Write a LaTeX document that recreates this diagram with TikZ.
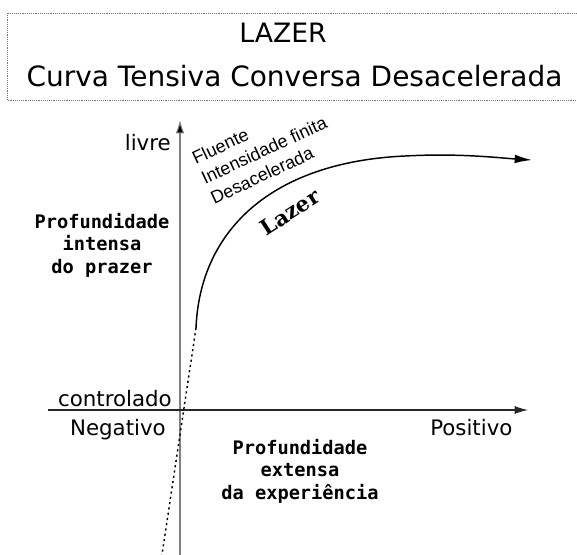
\documentclass[tikz,border=0pt]{standalone}
\usepackage{fontspec}
\setmainfont{DejaVu Sans}
\newfontfamily\monob{DejaVu Sans Mono}
\newfontfamily\arialf{Liberation Sans}
\newfontfamily\serifb{DejaVu Serif}
\usetikzlibrary{arrows.meta}
\tikzset{
  hand/.style={inner sep=0pt, font=\fontsize{16}{19}\selectfont},
  monolbl/.style={inner sep=0pt, align=center, font=\monob\bfseries\fontsize{14}{16.9}\selectfont},
  vaxis/.style={draw=black!50, line width=0.8pt, -{Latex[length=10pt,width=6.5pt,fill=black]}},
  haxis/.style={draw=black!85, line width=0.8pt, -{Latex[length=10pt,width=6pt]}},
  curveline/.style={draw=black, line width=1.1pt, -{Latex[length=13pt,width=6.5pt]}},
  dotline/.style={draw=black, line width=1.1pt, dash pattern=on 1.6pt off 2.4pt},
  titlebox/.style={draw=black!55, line width=0.7pt, dash pattern=on 0.7pt off 0.7pt}
}
\begin{document}
\begin{tikzpicture}[x=0.75pt,y=-0.75pt]
\useasboundingbox (0,0) rectangle (577,554);
% title box
\coordinate (tb1) at (7,13);
\coordinate (tb2) at (582,100);
\draw[titlebox] (tb1) rectangle (tb2);
\node[inner sep=0pt, anchor=base, font=\fontsize{20}{24}\selectfont] (lazert) at (283,42) {LAZER};
\node[inner sep=0pt, anchor=base, font=\fontsize{21}{25}\selectfont] (title) at (294.5,86) {Curva Tensiva Conversa Desacelerada};
% axes
\coordinate (yb) at (180,556);
\coordinate (yt) at (180,120);
\coordinate (xl) at (48,410);
\coordinate (xr) at (528,410);
\draw[vaxis] (yb) -- (yt);
\draw[haxis] (xl) -- (xr);
% axis labels
\node[hand, anchor=base east] (livre) at (171,150) {livre};
\node[hand, anchor=base east] (contr) at (172,406) {controlado};
\node[hand, anchor=base east] (neg) at (166,435) {Negativo};
\node[hand, anchor=base west] (pos) at (430,435) {Positivo};
% blocks
\node[monolbl] (intensa) at (102,245) {Profundidade\\intensa\\do prazer};
\node[monolbl] (extensa) at (300,471) {Profundidade\\extensa\\da experiência};
% curve
\coordinate (c0) at (196,328);
\coordinate (c1) at (405,156);
\coordinate (c2) at (532,160);
\coordinate (d1) at (160,568);
\draw[dotline] (c0) -- (d1);
\draw[curveline] (c0) .. controls (200,230) and (272,162) .. (c1) .. controls (460,153) and (500,158) .. (c2);
% rotated labels
\node[inner sep=0pt, rotate=25, align=left, font=\arialf\fontsize{13.5}{16.5}\selectfont] (fluente) at (264,150) {Fluente\\Intensidade finita\\Desacelerada};
\node[inner sep=0pt, rotate=33, font=\serifb\bfseries\fontsize{16}{19}\selectfont] (lazerlbl) at (290,212) {Lazer};
\end{tikzpicture}
\end{document}
